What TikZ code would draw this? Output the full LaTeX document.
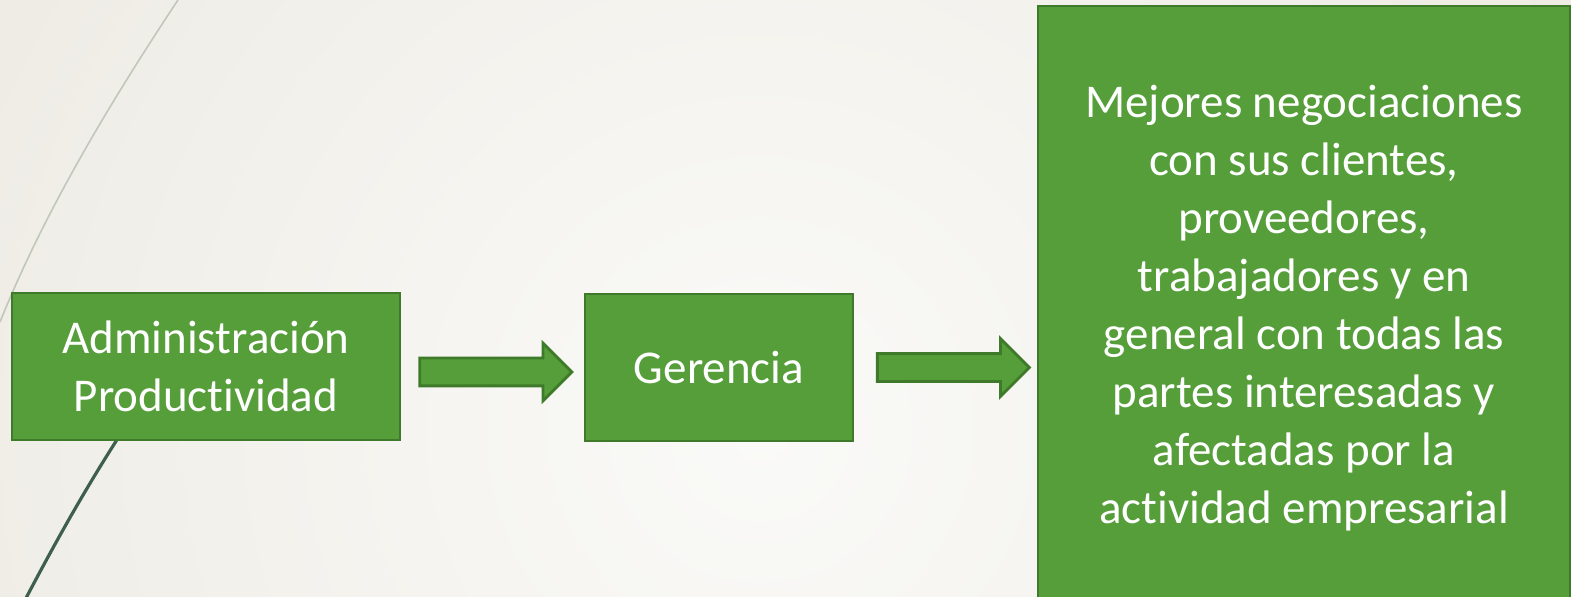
\documentclass[tikz,border=0pt]{standalone}
\usepackage{fontspec}
\setmainfont{Carlito}[Ligatures=NoCommon]
\usepackage{tikz}
\usetikzlibrary{shapes,arrows,calc}

\definecolor{verde}{HTML}{559E3A}
\definecolor{verdeborde}{HTML}{3E7A2A}
\definecolor{fondoclaro}{HTML}{FAFAF8}
\definecolor{fondo}{HTML}{E7E3D9}
\definecolor{lineaclara}{HTML}{C0C8BA}
\definecolor{lineaoscura}{HTML}{3F5F4E}

\begin{document}
\begin{tikzpicture}[x=0.5pt, y=-0.5pt,
  caja/.style={draw=verdeborde, line width=1.4pt, fill=verde, text=white, align=center,
    font=\fontsize{23.5}{29}\selectfont, inner sep=0pt},
  flecha/.style={single arrow, draw=verdeborde, line width=1.4pt, fill=verde, inner xsep=0pt,
    inner ysep=6.25pt, minimum height=76pt, single arrow head extend=7.5pt}]
\useasboundingbox (0,0) rectangle (1571,596);
\begin{scope}
\clip (0,0) rectangle (1571,596);
\shade[inner color=fondoclaro, outer color=fondo] (760,430) circle (1400);
\draw[lineaclara, line width=0.8pt] (178,0) .. controls (107,107) and (43,215) .. (0,322);
\draw[lineaoscura, line width=1.6pt] (120,435) .. controls (84,491) and (55,543) .. (25,600);
\end{scope}
\node[caja, minimum width=194pt, minimum height=73.5pt] (admin) at (206,366.5) {Administración\\Productividad};
\node[caja, minimum width=134pt, minimum height=73.5pt] (gerencia) at (719,367.5) {Gerencia};
\node[caja, minimum width=266pt, minimum height=302pt] (mejores) at (1304,308)
  {Mejores negociaciones\\con sus clientes,\\proveedores,\\trabajadores y en\\general con todas las\\partes interesadas y\\afectadas por la\\actividad empresarial};
\node[flecha, yshift=-2.5pt] (f1) at ($(admin.east)!0.48!(gerencia.west)$) {};
\node[flecha] (f2) at ($(gerencia.east)!0.505!(gerencia.east -| mejores.west)$) {};
\end{tikzpicture}
\end{document}
